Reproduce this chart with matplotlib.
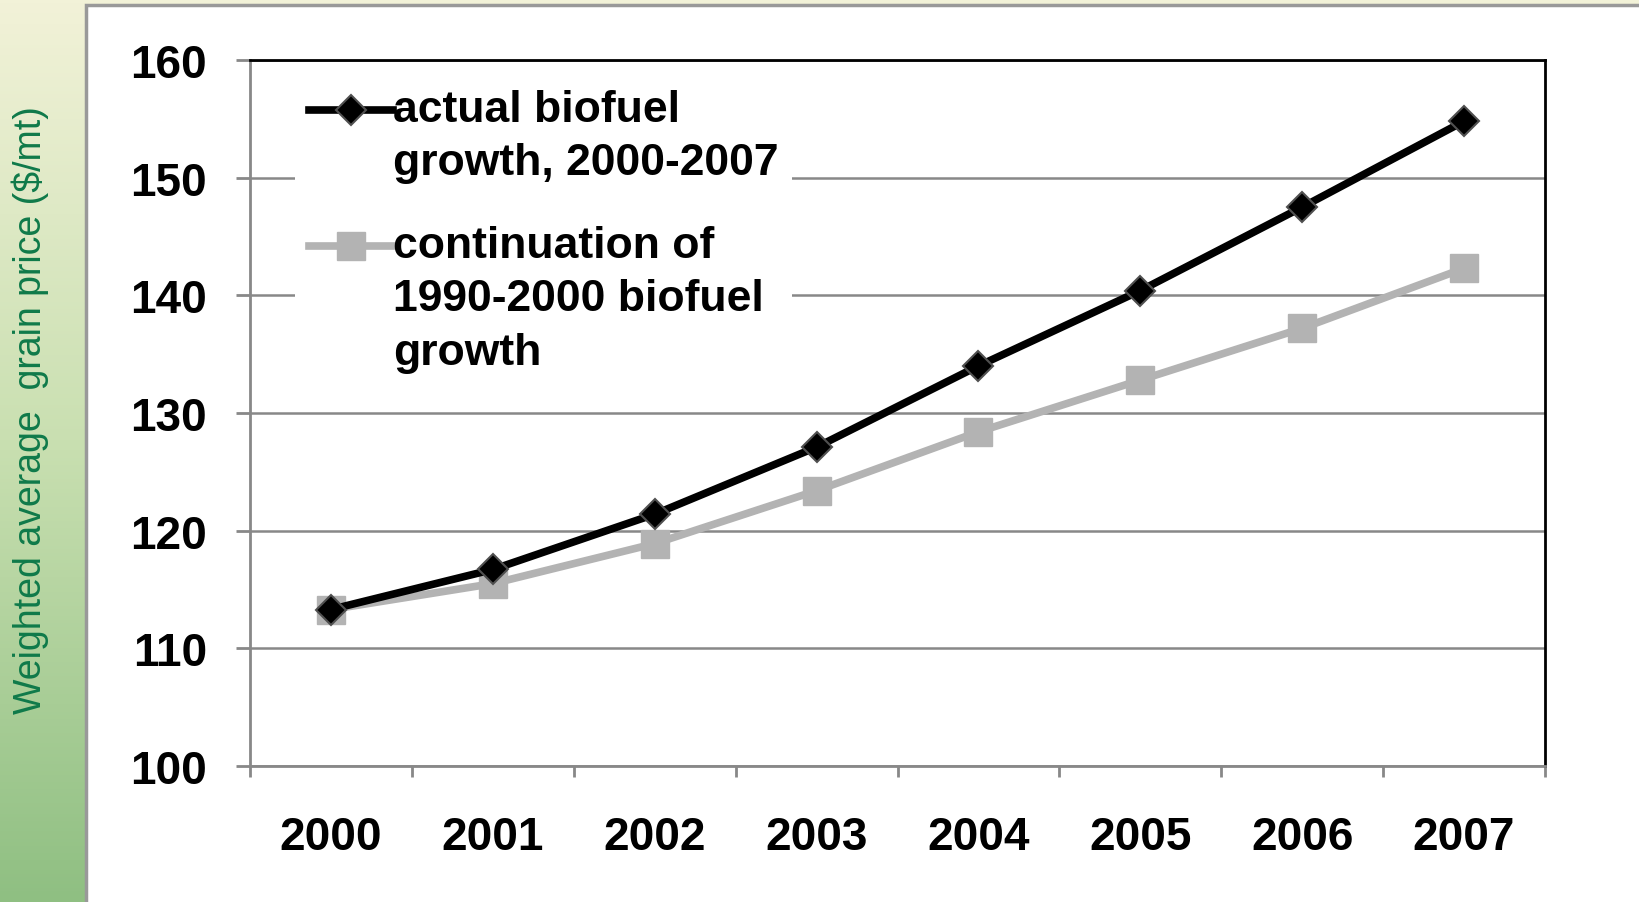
import numpy as np
import matplotlib
matplotlib.use("Agg")
import matplotlib.pyplot as plt
from matplotlib.colors import LinearSegmentedColormap
from matplotlib.patches import Rectangle
from matplotlib.legend_handler import HandlerLine2D

plt.rcParams['font.family'] = ['Liberation Sans', 'DejaVu Sans']

years = ["2000", "2001", "2002", "2003", "2004", "2005", "2006", "2007"]
actual = [113.3, 116.7, 121.4, 127.1, 134.0, 140.4, 147.5, 154.8]
continuation = [113.3, 115.5, 118.9, 123.4, 128.4, 132.8, 137.2, 142.3]
yticks = [100, 110, 120, 130, 140, 150, 160]


class TopHandler(HandlerLine2D):
    # pone el simbolo a la altura de la primera linea del texto
    def __init__(self, shift, **kw):
        super().__init__(**kw)
        self.shift = shift

    def create_artists(self, legend, orig_handle, xdescent, ydescent, width, height, fontsize, trans):
        arts = super().create_artists(legend, orig_handle, xdescent, ydescent,
                                      width, height, fontsize, trans)
        for a in arts:
            a.set_ydata(np.asarray(a.get_ydata()) + self.shift * fontsize)
        return arts


fig = plt.figure(figsize=(16.39, 9.03), dpi=100)

# fondo degradado (amarillo claro arriba, verde abajo)
bg = fig.add_axes([0, 0, 1, 1], zorder=0)
cmap = LinearSegmentedColormap.from_list("bg", ["#f2f2d8", "#c8dfb0", "#8fbf82"])
grad = np.linspace(0, 1, 256).reshape(-1, 1)
bg.imshow(grad, aspect="auto", cmap=cmap, extent=[0, 1, 0, 1], origin="upper")
bg.add_patch(Rectangle((86 / 1639, -0.01), 1.1, 1 - 6 / 903 + 0.01,
                       facecolor="white", edgecolor="#999999", linewidth=2.5))
bg.set_xlim(0, 1)
bg.set_ylim(0, 1)
bg.axis("off")

ax = fig.add_axes([250 / 1639, 1 - 767 / 903, (1545 - 250) / 1639, (767 - 61) / 903], zorder=1)
x = np.arange(len(years))

l1, = ax.plot(x, actual, color="black", lw=5.5, marker="D", markersize=15.5,
              markerfacecolor="black", markeredgecolor="#505050", markeredgewidth=1.5,
              label="actual biofuel\ngrowth, 2000-2007", zorder=4)
l2, = ax.plot(x, continuation, color="#b3b3b3", lw=5.5, marker="s", markersize=20,
              markerfacecolor="#b3b3b3", markeredgecolor="#b3b3b3",
              label="continuation of\n1990-2000 biofuel\ngrowth", zorder=3)

ax.set_xlim(-0.5, len(years) - 0.5)
ax.set_ylim(100, 160)
ax.set_yticks(yticks)
ax.set_yticklabels([str(v) for v in yticks], fontsize=33, fontweight="bold")
ax.set_xticks(x)
ax.set_xticklabels(years, fontsize=33, fontweight="bold")
ax.set_xticks(np.arange(-0.5, len(years)), minor=True)
ax.tick_params(axis="x", which="major", length=0, pad=35)
ax.tick_params(axis="x", which="minor", length=8, width=2, color="#888888", direction="out")
ax.tick_params(axis="y", length=10, width=2, color="#888888", direction="out", pad=21)

ax.grid(axis="y", color="#888888", lw=1.8, zorder=0)
ax.set_axisbelow(True)
for s in ["left", "bottom"]:
    ax.spines[s].set_color("#888888")
    ax.spines[s].set_linewidth(2)
for s in ["top", "right"]:
    ax.spines[s].set_color("black")
    ax.spines[s].set_linewidth(2)

leg = ax.legend(handles=[l1, l2], loc="upper left", bbox_to_anchor=(0.035, 0.978), frameon=True,
                prop={"size": 32, "weight": "bold"}, handlelength=1.9,
                handletextpad=0.0, labelspacing=0.95, borderpad=0.3, borderaxespad=0,
                handler_map={l1: TopHandler(0.6), l2: TopHandler(1.2)})
leg.get_frame().set_facecolor("white")
leg.get_frame().set_edgecolor("none")
leg.get_frame().set_alpha(1)
for t in leg.get_texts():
    t.set_linespacing(1.38)

fig.text(30 / 1639, 1 - 410 / 903, "Weighted average  grain price ($/mt)",
         rotation=90, va="center", ha="center", fontsize=27, color="#0f7a4a")

fig.savefig("out.png", dpi=100)
